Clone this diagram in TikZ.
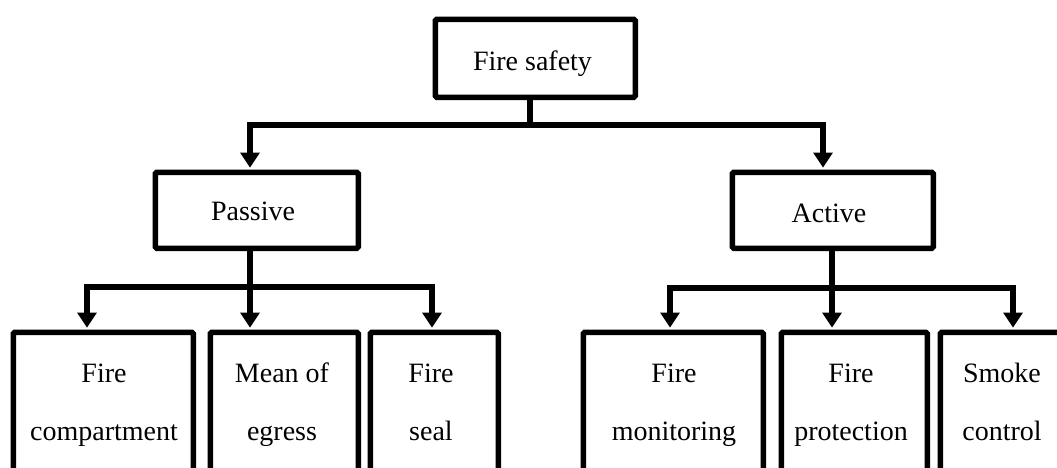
\documentclass[tikz,border=0pt]{standalone}
\usepackage{fontspec}
\setmainfont{Liberation Serif}
\usetikzlibrary{arrows.meta}
\begin{document}
\begin{tikzpicture}[x=1pt,y=-1pt,
  box/.style={draw, line width=5.5pt, rounded corners=1.5pt, inner sep=0pt,
              anchor=north west, minimum height=#1},
  box/.default=160pt,
  conn/.style={line width=5.5pt, line join=miter},
  arr/.style={conn, shorten >=2pt,
              -{Triangle[width=20pt,length=15pt,line width=0pt]}},
  lbl/.style={font=\fontsize{28}{58}\selectfont, align=center,
              anchor=base, inner sep=0pt}]

\useasboundingbox (0,0) rectangle (1057,467);
\clip (0,0) rectangle (1057,467);

% root
\node[box=78pt, minimum width=200pt] (top) at (432.5,16.5) {};
\node[lbl] (ttop) at (532.5,70) {Fire safety};

% second level
\node[box=76pt, minimum width=203pt] (passive) at (152.5,169.5) {};
\node[lbl] (tpassive) at (253,220) {Passive};
\node[box=76pt, minimum width=201pt] (active) at (729.5,169.5) {};
\node[lbl] (tactive) at (829,222) {Active};

% leaves
\node[box, minimum width=180pt] (b1) at (10.5,329.5) {};
\node[box, minimum width=148pt] (b2) at (207.5,329.5) {};
\node[box, minimum width=128pt] (b3) at (367.5,329.5) {};
\node[box, minimum width=180pt] (b4) at (580.5,329.5) {};
\node[box, minimum width=146pt] (b5) at (778.5,329.5) {};
\node[box, minimum width=130pt] (b6) at (937.5,329.5) {};

% two-line labels, placed on the baseline of their second line
\node[lbl] (t1) at (104,440) {Fire\\compartment};
\node[lbl] (t2) at (282,440) {Mean of\\egress};
\node[lbl] (t3) at (431,440) {Fire\\seal};
\node[lbl] (t4) at (674,440) {Fire\\monitoring};
\node[lbl] (t5) at (851,440) {Fire\\protection};
\node[lbl] (t6) at (1002,440) {Smoke\\control};

% root to second level
\coordinate (j0) at (530,125);
\coordinate (pa) at (250,125);
\coordinate (aa) at (823,125);
\draw[conn] (top.south -| j0) -- (j0);
\draw[arr] (j0) -- (pa) -- (pa |- passive.north);
\draw[arr] (j0) -- (aa) -- (aa |- active.north);

% passive branch
\coordinate (pj) at (250,287);
\coordinate (c1) at (87,287);
\coordinate (c3) at (432,287);
\draw[conn] (passive.south -| pj) -- (pj);
\draw[arr] (pj) -- (c1) -- (c1 |- b1.north);
\draw[arr] (pj) -- (pj |- b2.north);
\draw[arr] (pj) -- (c3) -- (c3 |- b3.north);

% active branch
\coordinate (aj) at (832,288);
\coordinate (c4) at (670,288);
\coordinate (c6) at (1013,288);
\draw[conn] (active.south -| aj) -- (aj);
\draw[arr] (aj) -- (c4) -- (c4 |- b4.north);
\draw[arr] (aj) -- (aj |- b5.north);
\draw[arr] (aj) -- (c6) -- (c6 |- b6.north);
\end{tikzpicture}
\end{document}
